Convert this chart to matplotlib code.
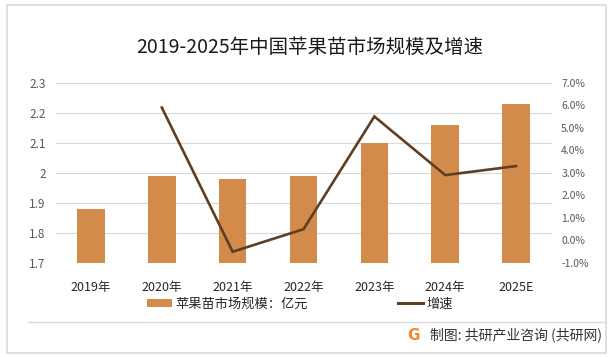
import matplotlib
matplotlib.use('Agg')
import matplotlib.pyplot as plt
from matplotlib.patches import Rectangle, Patch
from matplotlib.lines import Line2D

plt.rcParams['font.family'] = ['Noto Sans CJK SC', 'DejaVu Sans']

# ---- data ----
years = ['2019年', '2020年', '2021年', '2022年', '2023年', '2024年', '2025E']
market_size = [1.88, 1.99, 1.98, 1.99, 2.10, 2.16, 2.23]
growth_years = ['2020年', '2021年', '2022年', '2023年', '2024年', '2025E']
growth = [5.9, -0.5, 0.5, 5.5, 2.9, 3.3]
left_ticks = [1.7, 1.8, 1.9, 2.0, 2.1, 2.2, 2.3]
left_tick_labels = ['1.7', '1.8', '1.9', '2', '2.1', '2.2', '2.3']
right_ticks = [-1, 0, 1, 2, 3, 4, 5, 6, 7]
right_tick_labels = ['-1.0%', '0.0%', '1.0%', '2.0%', '3.0%', '4.0%', '5.0%', '6.0%', '7.0%']

title = '2019-2025年中国苹果苗市场规模及增速'
bar_label = '苹果苗市场规模：亿元'
line_label = '增速'
source = '制图: 共研产业咨询 (共研网)'

BAR_C = '#D38B4C'
LINE_C = '#5E3F23'
GRID_C = '#D9D9D9'

W, H = 614, 357
fig = plt.figure(figsize=(W / 100, H / 100), dpi=100)
fig.patch.set_facecolor('white')

ax = fig.add_axes([55.5 / W, 1 - 263 / H, 496 / W, 180.3 / H])
xpos = list(range(len(years)))
ax.bar(xpos, market_size, width=0.39, color=BAR_C, zorder=2)
ax.set_xlim(-0.5, len(years) - 0.5)
ax.set_ylim(1.7, 2.3)
ax.set_yticks(left_ticks)
ax.set_yticklabels(left_tick_labels)
ax.grid(axis='y', color=GRID_C, lw=0.8)
ax.grid(axis='x', visible=False)
ax.set_axisbelow(True)
for s in ax.spines.values():
    s.set_visible(False)
ax.tick_params(axis='both', length=0)
ax.tick_params(axis='y', labelsize=8.5, labelcolor='#595959', pad=7)
ax.set_xticks(xpos)
ax.set_xticklabels(years, fontsize=9, color='#262626')
ax.tick_params(axis='x', pad=13)

ax2 = ax.twinx()
gx = [years.index(g) for g in growth_years]
ax2.plot(gx, growth, color=LINE_C, lw=1.9, solid_joinstyle='miter', zorder=3)
ax2.set_ylim(-1, 7)
ax2.set_yticks(right_ticks)
ax2.set_yticklabels(right_tick_labels)
for s in ax2.spines.values():
    s.set_visible(False)
ax2.tick_params(axis='y', length=0, labelsize=7.5, labelcolor='#595959', pad=7)

fig.text(310 / W, 1 - 47 / H, title, ha='center', va='center', fontsize=14, color='#1a1a1a')

handles = [Patch(facecolor=BAR_C, edgecolor='none'),
           Line2D([0], [0], color=LINE_C, lw=2.2)]
fig.legend(handles, [bar_label, line_label], ncol=2, loc='center',
           bbox_to_anchor=(300 / W, 1 - 304 / H), frameon=False, fontsize=9.5,
           handlelength=1.9, handleheight=0.5, handletextpad=0.3, columnspacing=6.8,
           labelcolor='#262626')

# frame and footer
fig.add_artist(Rectangle((7 / W, 1 - 353 / H), 599 / W, 348 / H, fill=False,
                         edgecolor=GRID_C, lw=1.2, transform=fig.transFigure))
fig.add_artist(Line2D([28 / W, 606 / W], [1 - 322 / H] * 2, color=GRID_C, lw=1.0,
                      transform=fig.transFigure))
fig.text(414 / W, 1 - 336 / H, 'G', ha='center', va='center', fontsize=11,
         fontweight='bold', color='#F08A30', family='DejaVu Sans')
fig.text(430 / W, 1 - 335 / H, source, ha='left', va='center', fontsize=10,
         color='#333333', fontweight='medium')

fig.savefig('out.png', dpi=100)
